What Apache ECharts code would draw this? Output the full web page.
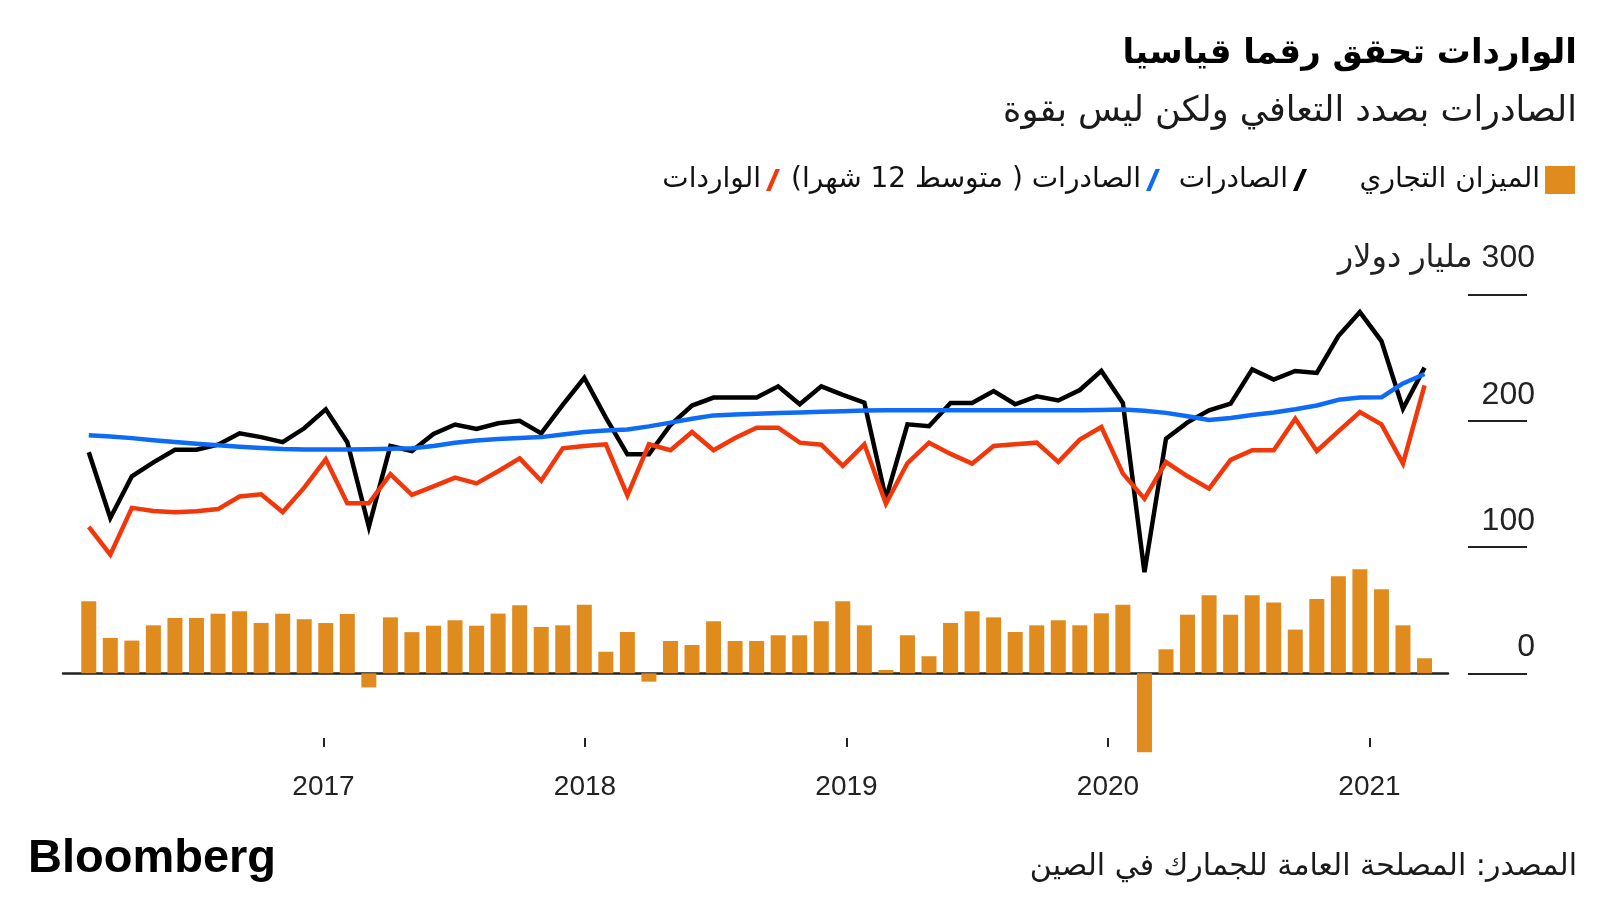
<!DOCTYPE html>
<html dir="rtl" lang="ar">
<head>
<meta charset="utf-8">
<script src="https://cdn.jsdelivr.net/npm/echarts@6/dist/echarts.min.js"></script>
<style>
html,body{margin:0;padding:0;background:#fff;}
#chart{position:absolute;left:0;top:0;width:1600px;height:900px;}
</style>
</head>
<body>
<div id="chart"></div>
<script>
// ---------- DATA ----------
const months = [
  '2016-01','2016-02','2016-03','2016-04','2016-05','2016-06','2016-07','2016-08','2016-09','2016-10','2016-11','2016-12',
  '2017-01','2017-02','2017-03','2017-04','2017-05','2017-06','2017-07','2017-08','2017-09','2017-10','2017-11','2017-12',
  '2018-01','2018-02','2018-03','2018-04','2018-05','2018-06','2018-07','2018-08','2018-09','2018-10','2018-11','2018-12',
  '2019-01','2019-02','2019-03','2019-04','2019-05','2019-06','2019-07','2019-08','2019-09','2019-10','2019-11','2019-12',
  '2020-01','2020-02','2020-03','2020-04','2020-05','2020-06','2020-07','2020-08','2020-09','2020-10','2020-11','2020-12',
  '2021-01','2021-02','2021-03'
];
// Trade balance (bn USD)
const balanceData = [
  57.0, 28.0, 25.9, 38.0, 43.8, 43.8, 47.2, 49.1, 39.9, 47.2, 42.8, 39.8,
  47.0, -11.2, 44.3, 32.6, 37.7, 42.0, 37.7, 47.3, 53.9, 36.7, 38.0, 54.2,
  17.1, 32.7, -6.6, 25.6, 22.4, 41.2, 25.6, 25.6, 30.1, 30.1, 41.2, 57.0,
  38.0, 2.6, 30.1, 13.5, 39.9, 49.1, 44.3, 32.7, 38.0, 42.0, 38.0, 47.5,
  54.2, -62.5, 19.0, 46.4, 61.8, 46.4, 61.8, 56.0, 34.6, 58.9, 76.8, 82.3,
  66.5, 38.0, 11.9
];
// Exports (bn USD)
const exportsData = [
  175, 123, 156, 167, 177, 177, 181, 190, 187, 183, 194, 209,
  183, 116, 180, 176, 189.5, 197, 193.4, 198, 200, 190, 212.5, 234,
  202.4, 173.4, 173.4, 196.6, 212, 218.3, 218.3, 218.3, 227.2, 213, 227.2, 220.4,
  214.3, 138.3, 197.1, 195.6, 214, 214, 223.5, 213, 219.3, 216, 224.3, 239.4,
  214, 80, 185.8, 198.7, 208.2, 213.5, 240.6, 232.5, 239.4, 237.8, 267, 286,
  263, 209.5, 242
];
// Exports, 12-month average (bn USD)
const exportsAvgData = [
  188.4, 187.5, 186.2, 184.6, 183.2, 181.8, 180.5, 179.4, 178.4, 177.6, 177.2, 177.1,
  177.2, 177.4, 177.7, 178.2, 180, 182.5, 184.3, 185.6, 186.3, 187, 189, 191,
  192.2, 193, 195.5, 198.5, 201.5, 204.2, 205, 205.5, 206, 206.5, 207, 207.5,
  208, 208.2, 208.2, 208.2, 208.2, 208.2, 208.2, 208.2, 208.2, 208.2, 208.2, 208.4,
  208.8, 207.8, 206.2, 203.5, 200.6, 202.2, 204.5, 206.5, 209, 212, 216.5, 218.3,
  218.5, 229.5, 237
];
// Imports (bn USD)
const importsData = [
  116, 94, 131, 128.5, 127.5, 128.3, 130, 140, 141.7, 127.7, 147, 169.4,
  134.6, 134.6, 157.6, 141.2, 148, 154.9, 150.4, 160, 170.2, 152.5, 178.1, 180,
  181.3, 140.9, 181.3, 176.6, 191.1, 176.6, 186.3, 194.5, 194.5, 182.6, 181, 164.2,
  181.3, 134.3, 166.5, 182.6, 173.7, 166, 180, 181.3, 182.6, 167.3, 185, 195,
  158.1, 138.3, 167.3, 156, 146.2, 169, 176.6, 176.6, 201.6, 176, 191.6, 206.9,
  197.1, 166, 228
];
const yearLabels = ['2017', '2018', '2019', '2020', '2021'];
const yTickValues = [0, 100, 200, 300];
const yUnit = 'مليار دولار';

const titleText = 'الواردات تحقق رقما قياسيا';
const subtitleText = 'الصادرات بصدد التعافي ولكن ليس بقوة';
const sourceText = 'المصدر: المصلحة العامة للجمارك في الصين';
const balanceName = 'الميزان التجاري';
const exportsName = 'الصادرات';
const avgName = 'الصادرات ( متوسط 12 شهرا)';
const importsName = 'الواردات';

// ---------- STYLE ----------
const AR = 'DejaVu Sans';
const NUM = 'Liberation Sans, DejaVu Sans';
const ORANGE = '#DF8B1E';
const BLUE = '#0E6BF5';
const RED = '#F2380A';
const BLACK = '#000000';
const SLASH = 'path://M0,22L4.5,22L14,0L9.5,0Z';
const yearValues = yearLabels.map(Number);

const chart = echarts.init(document.getElementById('chart'), null, {renderer: 'canvas'});

const legendCommon = {
  orient: 'horizontal', align: 'right', padding: 0, itemGap: 0, selectedMode: false, top: 166,
  textStyle: {fontFamily: AR, fontSize: 28, color: '#111'}
};

const option = {
  animation: false,
  backgroundColor: '#ffffff',
  title: [
    {text: titleText, right: 23, top: 37, padding: 0,
     textStyle: {fontFamily: AR, fontWeight: 'bold', fontSize: 34, color: '#000'}},
    {text: subtitleText, right: 23, top: 94, padding: 0,
     textStyle: {fontFamily: AR, fontWeight: 'normal', fontSize: 35, color: '#1a1a1a'}},
    {text: sourceText, right: 23, top: 852, padding: 0,
     textStyle: {fontFamily: AR, fontWeight: 'normal', fontSize: 30, color: '#1a1a1a'}},
    {text: 'Bloomberg', left: 28, top: 836, padding: 0,
     textStyle: {fontFamily: 'Liberation Sans', fontWeight: 'bold', fontSize: 47, color: '#000'}}
  ],
  legend: [
    Object.assign({}, legendCommon, {right: 25, itemWidth: 30, itemHeight: 28,
      data: [{name: balanceName, icon: 'rect', itemStyle: {color: ORANGE, borderWidth: 0}}]}),
    Object.assign({}, legendCommon, {right: 293, itemWidth: 14, itemHeight: 22,
      data: [{name: exportsName, icon: SLASH, itemStyle: {color: BLACK, borderWidth: 0}}]}),
    Object.assign({}, legendCommon, {right: 440, itemWidth: 14, itemHeight: 22,
      data: [{name: avgName, icon: SLASH, itemStyle: {color: BLUE, borderWidth: 0}}]}),
    Object.assign({}, legendCommon, {right: 820, itemWidth: 14, itemHeight: 22,
      data: [{name: importsName, icon: SLASH, itemStyle: {color: RED, borderWidth: 0}}]})
  ],
  grid: [
    {left: 78, right: 164.7, top: 294.4, bottom: 100.4},
    {left: 63, right: 152, top: 294.4, bottom: 100.4},
    {left: 78, right: 164.7, top: 700, bottom: 153}
  ],
  xAxis: [
    {type: 'category', gridIndex: 0, data: months, show: false, boundaryGap: true},
    {type: 'value', gridIndex: 1, min: 0, max: 1,
     axisLine: {show: true, onZero: true, lineStyle: {color: '#222', width: 2.5}},
     axisTick: {show: false}, axisLabel: {show: false}, splitLine: {show: false}},
    {type: 'value', gridIndex: 2, min: 2016.0612, max: 2021.2516,
     axisLine: {show: false},
     axisTick: {show: true, inside: true, length: 9, customValues: yearValues,
                lineStyle: {color: '#222', width: 2}},
     axisLabel: {show: true, customValues: yearValues, margin: 26,
                 formatter: v => yearLabels[yearValues.indexOf(Math.round(v))] || '',
                 fontFamily: NUM, fontSize: 28, lineHeight: 28, color: '#222'},
     splitLine: {show: false}}
  ],
  yAxis: [
    {type: 'value', gridIndex: 0, position: 'right', offset: 32.7, min: -100, max: 300,
     axisLine: {show: false},
     axisTick: {show: true, length: 59, customValues: yTickValues,
                lineStyle: {color: '#222', width: 2}},
     axisLabel: {show: true, customValues: yTickValues, margin: 67, align: 'right',
                 verticalAlign: 'bottom',
                 formatter: v => v === 300 ? '{u|' + v + ' ' + yUnit + '}' : '{n|' + v + '}',
                 rich: {
                   n: {fontFamily: NUM, fontSize: 32, lineHeight: 32, color: '#222', padding: [0, 0, 20, 0]},
                   u: {fontFamily: NUM, fontSize: 32, lineHeight: 32, color: '#222', padding: [0, 0, 41, 0]}
                 }},
     splitLine: {show: false}},
    {type: 'value', gridIndex: 1, min: -100, max: 300, show: false},
    {type: 'value', gridIndex: 2, min: 0, max: 1, show: false}
  ],
  series: [
    {name: balanceName, type: 'bar', xAxisIndex: 0, yAxisIndex: 0, data: balanceData,
     barWidth: 15, itemStyle: {color: ORANGE}, clip: false, z: 2},
    {name: exportsName, type: 'line', xAxisIndex: 0, yAxisIndex: 0, data: exportsData,
     symbol: 'none', itemStyle: {color: BLACK},
     lineStyle: {color: BLACK, width: 4.5, join: 'miter', miterLimit: 4}, z: 3},
    {name: avgName, type: 'line', xAxisIndex: 0, yAxisIndex: 0, data: exportsAvgData,
     symbol: 'none', itemStyle: {color: BLUE},
     lineStyle: {color: BLUE, width: 4.5, join: 'round'}, z: 4},
    {name: importsName, type: 'line', xAxisIndex: 0, yAxisIndex: 0, data: importsData,
     symbol: 'none', itemStyle: {color: RED},
     lineStyle: {color: RED, width: 4.5, join: 'miter', miterLimit: 4}, z: 5}
  ]
};
chart.setOption(option);
</script>
</body>
</html>
